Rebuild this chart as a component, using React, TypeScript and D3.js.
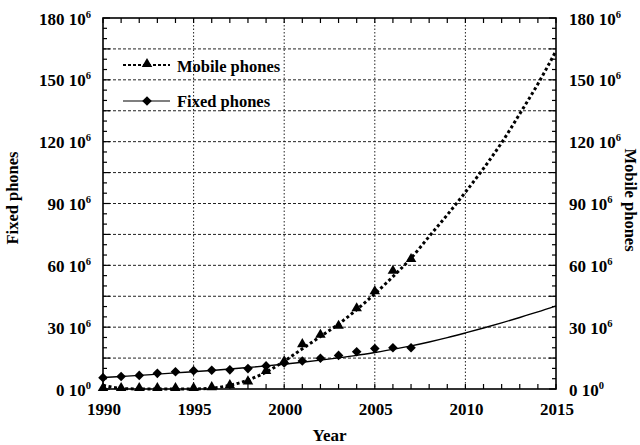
import React from "react";
import * as d3 from "d3";

// Observed subscribers (millions)
const obsYears = [1990, 1991, 1992, 1993, 1994, 1995, 1996, 1997, 1998, 1999, 2000, 2001, 2002, 2003, 2004, 2005, 2006, 2007];
const fixedObs = [5.5, 6.1, 6.6, 7.6, 8.4, 8.9, 9.1, 9.3, 9.9, 11.2, 12.6, 13.6, 14.9, 16.3, 18.1, 19.6, 20.0, 20.0];
const mobileObs = [0, 0, 0, 0, 0, 0, 0.4, 1.4, 3.2, 8.3, 13.0, 21.3, 25.8, 30.2, 38.7, 46.9, 56.9, 62.6];

// Fitted trends (millions)
const trendYears = [1990, 1991, 1992, 1993, 1994, 1995, 1996, 1997, 1998, 1999, 2000, 2001, 2002, 2003, 2004, 2005, 2006, 2007, 2008, 2009, 2010, 2011, 2012, 2013, 2014, 2015];
const fixedTrend = [5.6, 6.1, 6.6, 7.2, 7.8, 8.4, 9.0, 9.7, 10.4, 11.2, 12.1, 13.0, 14.0, 15.1, 16.3, 17.7, 19.2, 20.9, 22.8, 24.9, 27.2, 29.6, 32.1, 34.7, 37.4, 40.3];
const mobileTrend = [1.8, 0.3, 0, 0, 0, 0, 0.4, 1.8, 4.3, 8.2, 13.5, 19.5, 25.5, 31.5, 38.5, 46.2, 54.5, 63.5, 74, 84.5, 95.5, 107, 119.5, 133.5, 148, 164];

const xTickYears = [1990, 1995, 2000, 2005, 2010, 2015];
const yTickValues = [0, 30, 60, 90, 120, 150, 180];

const W = 640;
const H = 445;
const M = { left: 103, right: 556, top: 18, bottom: 389 };
const FONT = "'Liberation Serif', 'Times New Roman', serif";
const TICK_FS = 17;
const TITLE_FS = 16.5;

const x = d3.scaleLinear().domain([1990, 2015]).range([M.left, M.right]);
const y = d3.scaleLinear().domain([0, 180]).range([M.bottom, M.top]);

const trendLine = d3
  .line<number>()
  .x((_, i) => x(trendYears[i]))
  .y((d) => y(d))
  .curve(d3.curveMonotoneX);

const triangle = d3.symbol(d3.symbolTriangle, 48);
const diamond = (cx: number, cy: number, r = 4.8) =>
  `M${cx},${cy - r}L${cx + r},${cy}L${cx},${cy + r}L${cx - r},${cy}Z`;

function YLabel({ v, side }: { v: number; side: "left" | "right" }) {
  const sup = v === 0 ? "0" : "6";
  const isLeft = side === "left";
  return (
    <text
      x={isLeft ? 91 : 569}
      y={y(v) + 6.5}
      textAnchor={isLeft ? "end" : "start"}
      fontFamily={FONT}
      fontWeight="bold"
      fontSize={TICK_FS}
    >
      {`${v} 10`}
      <tspan dy={-7} fontSize={10.5}>
        {sup}
      </tspan>
    </text>
  );
}

export default function App() {
  const yearTicks = d3.range(1990, 2016);
  const minorY = d3.range(0, 181, 5);
  const gridY = d3.range(15, 180, 15);
  const gridX = [1995, 2000, 2005, 2010];

  return (
    <svg
      width={W}
      height={H}
      style={{ position: "absolute", left: 0, top: 0, background: "#fff" }}
    >
      {/* grid */}
      {gridY.map((v) => (
        <line
          key={`gy${v}`}
          x1={M.left}
          x2={M.right}
          y1={y(v)}
          y2={y(v)}
          stroke="#222"
          strokeWidth={1}
          strokeDasharray="3,2"
        />
      ))}
      {gridX.map((yr) => (
        <line
          key={`gx${yr}`}
          x1={x(yr)}
          x2={x(yr)}
          y1={M.top}
          y2={M.bottom}
          stroke="#222"
          strokeWidth={1}
          strokeDasharray="1.5,2"
        />
      ))}

      {/* ticks */}
      {yearTicks.map((yr) => (
        <g key={`xt${yr}`} stroke="#000" strokeWidth={1.2}>
          <line x1={x(yr)} x2={x(yr)} y1={M.bottom} y2={M.bottom - 5} />
          <line x1={x(yr)} x2={x(yr)} y1={M.top} y2={M.top + 5} />
        </g>
      ))}
      {minorY.map((v) => {
        const len = v % 15 === 0 ? 7 : 4;
        return (
          <g key={`yt${v}`} stroke="#000" strokeWidth={1.2}>
            <line x1={M.left} x2={M.left + len} y1={y(v)} y2={y(v)} />
            <line x1={M.right} x2={M.right - len} y1={y(v)} y2={y(v)} />
          </g>
        );
      })}

      {/* trend curves */}
      <path d={trendLine(fixedTrend) || ""} fill="none" stroke="#000" strokeWidth={1.4} />
      <path
        d={trendLine(mobileTrend) || ""}
        fill="none"
        stroke="#000"
        strokeWidth={3}
        strokeDasharray="3,2.6"
      />

      {/* observations */}
      {obsYears.map((yr, i) => (
        <path key={`fd${yr}`} d={diamond(x(yr), y(fixedObs[i]))} fill="#000" />
      ))}
      {obsYears.map((yr, i) => (
        <path
          key={`mt${yr}`}
          d={triangle() || ""}
          transform={`translate(${x(yr)},${y(mobileObs[i]) - 1})`}
          fill="#000"
        />
      ))}

      {/* frame */}
      <rect
        x={M.left}
        y={M.top}
        width={M.right - M.left}
        height={M.bottom - M.top}
        fill="none"
        stroke="#000"
        strokeWidth={1.6}
      />

      {/* tick labels */}
      {xTickYears.map((yr) => (
        <text
          key={`xl${yr}`}
          x={x(yr) + 1}
          y={414.5}
          textAnchor="middle"
          fontFamily={FONT}
          fontWeight="bold"
          fontSize={TICK_FS}
        >
          {yr}
        </text>
      ))}
      {yTickValues.map((v) => (
        <YLabel key={`yl${v}`} v={v} side="left" />
      ))}
      {yTickValues.map((v) => (
        <YLabel key={`yr${v}`} v={v} side="right" />
      ))}

      {/* axis titles */}
      <text
        x={(M.left + M.right) / 2}
        y={441}
        textAnchor="middle"
        fontFamily={FONT}
        fontWeight="bold"
        fontSize={TICK_FS}
      >
        Year
      </text>
      <text
        transform={`translate(18,198) rotate(-90)`}
        textAnchor="middle"
        fontFamily={FONT}
        fontWeight="bold"
        fontSize={TITLE_FS}
      >
        Fixed phones
      </text>
      <text
        transform={`translate(625,200) rotate(90)`}
        textAnchor="middle"
        fontFamily={FONT}
        fontWeight="bold"
        fontSize={TITLE_FS}
      >
        Mobile phones
      </text>

      {/* legend */}
      <g>
        <line x1={123} x2={170} y1={65} y2={65} stroke="#000" strokeWidth={2} strokeDasharray="3,2" />
        <path d={triangle() || ""} transform="translate(147,64)" fill="#000" />
        <text x={177} y={71.5} fontFamily={FONT} fontWeight="bold" fontSize={TITLE_FS}>
          Mobile phones
        </text>
        <line x1={123} x2={170} y1={101} y2={101} stroke="#000" strokeWidth={1.2} />
        <path d={diamond(147, 101)} fill="#000" />
        <text x={177} y={107} fontFamily={FONT} fontWeight="bold" fontSize={TITLE_FS}>
          Fixed phones
        </text>
      </g>
    </svg>
  );
}
